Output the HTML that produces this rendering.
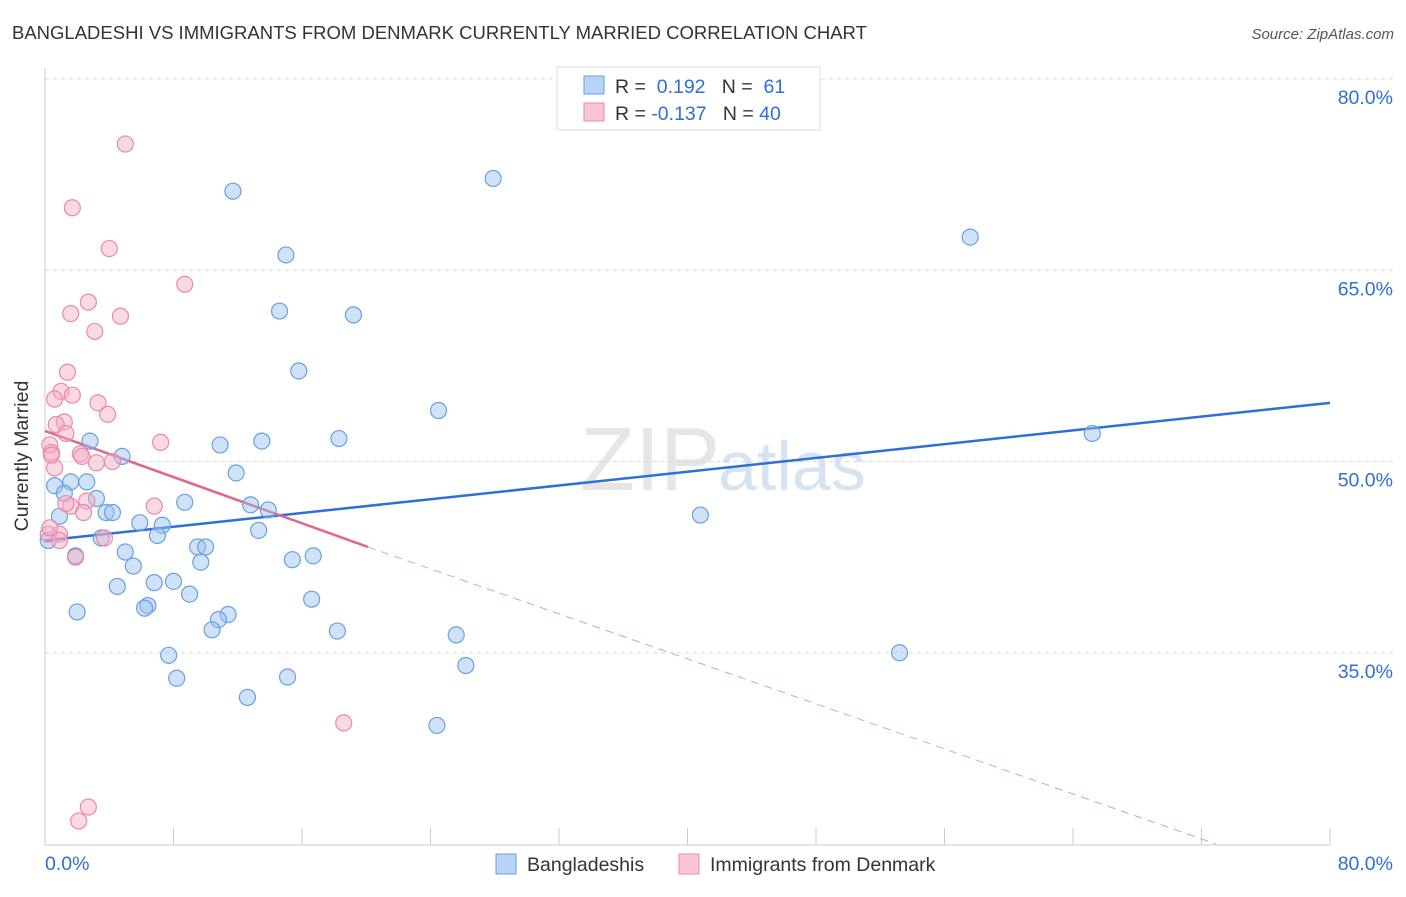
<!DOCTYPE html>
<html><head><meta charset="utf-8"><style>
body{margin:0;background:#fff;font-family:"Liberation Sans",sans-serif;}
svg text{font-family:"Liberation Sans",sans-serif;}
</style></head><body>
<svg id="chart" width="1406" height="892" xmlns="http://www.w3.org/2000/svg">
<text x="12" y="39" font-size="18.5" fill="#333">BANGLADESHI VS IMMIGRANTS FROM DENMARK CURRENTLY MARRIED CORRELATION CHART</text>
<text x="1394" y="39" font-size="15" fill="#555" text-anchor="end" font-style="italic">Source: ZipAtlas.com</text>
<text x="720" y="490" font-size="90" fill="#e6e6e6" text-anchor="end" font-family="Liberation Serif">ZIP</text>
<text x="718" y="490" font-size="70" fill="#d5e3f3">atlas</text>
<g id="grid"></g><g id="axes"></g><g id="lines"></g><g id="pts"></g>
<text x="28" y="456" font-size="19.5" fill="#333" text-anchor="middle" transform="rotate(-90 28 456)">Currently Married</text>
<g>
<rect x="557" y="67" width="263" height="63" fill="#fff" stroke="#ddd"/>
<rect x="584" y="76" width="20" height="18" fill="#b8d3f4" stroke="#6a9fe0"/>
<rect x="584" y="103" width="20" height="18" fill="#f9c5d5" stroke="#e88aa8"/>
<text x="615" y="93" font-size="19.5" fill="#333">R = <tspan fill="#2f6fd6">&#160;0.192</tspan>&#160;&#160;&#160;N = <tspan fill="#2f6fd6">&#160;61</tspan></text>
<text x="615" y="120" font-size="19.5" fill="#333">R = <tspan fill="#2f6fd6">-0.137</tspan>&#160;&#160;&#160;N = <tspan fill="#2f6fd6">40</tspan></text>
</g>
<g>
<rect x="496" y="854" width="20" height="20" fill="#b8d3f4" stroke="#6a9fe0"/>
<text x="527" y="871" font-size="19.5" fill="#333">Bangladeshis</text>
<rect x="679" y="854" width="20" height="20" fill="#f9c5d5" stroke="#e88aa8"/>
<text x="710" y="871" font-size="19.5" fill="#333">Immigrants from Denmark</text>
</g>
</svg>
<script>
const yTicks=[80,65,50,35];
const xTickLabels=["0.0%","80.0%"];
const blueX=[11.7,27.9,57.6,15.0,14.6,19.2,15.8,24.5,65.2,2.8,4.8,10.9,13.5,18.3,11.9,0.6,1.6,2.6,1.2,3.2,8.7,12.8,13.9,0.9,3.8,4.2,5.9,7.3,7.0,3.5,13.3,40.8,5.0,9.5,10.0,15.4,16.7,9.7,5.5,4.5,6.8,8.0,9.0,16.6,2.0,6.4,6.2,11.4,10.8,10.4,18.2,25.6,7.7,26.2,53.2,8.2,15.1,12.6,24.4,0.2,1.9];
const blueY=[71.2,72.2,67.6,66.2,61.8,61.5,57.1,54.0,52.2,51.6,50.4,51.3,51.6,51.8,49.1,48.1,48.4,48.4,47.5,47.1,46.8,46.6,46.2,45.7,46.0,46.0,45.2,45.0,44.2,44.0,44.6,45.8,42.9,43.3,43.3,42.3,42.6,42.1,41.8,40.2,40.5,40.6,39.6,39.2,38.2,38.7,38.5,38.0,37.6,36.8,36.7,36.4,34.8,34.0,35.0,33.0,33.1,31.5,29.3,43.8,42.6];
const pinkX=[5.0,1.7,4.0,8.7,2.7,1.6,4.7,3.1,1.4,1.0,1.7,0.6,3.3,3.9,1.2,0.7,1.3,7.2,0.3,0.4,2.2,2.3,4.2,3.2,0.6,2.6,1.6,6.8,2.4,0.9,3.7,1.9,0.2,18.6,2.7,2.1,0.9,0.4,1.3,0.3];
const pinkY=[74.9,69.9,66.7,63.9,62.5,61.6,61.4,60.2,57.0,55.5,55.2,54.9,54.6,53.7,53.1,52.9,52.2,51.5,51.3,50.7,50.6,50.4,50.0,49.9,49.5,46.9,46.5,46.5,46.0,44.3,44.0,42.5,44.3,29.5,22.9,21.8,43.8,50.5,46.7,44.8];
const trendB=[[0,43.8],[80,54.6]];
const trendP=[[0,52.4],[20.1,43.3],[72.9,20.0]];
const X0=45,X1=1330,Y80=79,PXY=12.75;
const sx=v=>X0+(X1-X0)*v/80, sy=v=>Y80+(80-v)*PXY;
const NS="http://www.w3.org/2000/svg";
function mk(tag,attrs,parent){const e=document.createElementNS(NS,tag);for(const k in attrs)e.setAttribute(k,attrs[k]);document.getElementById(parent).appendChild(e);return e;}
yTicks.forEach(t=>{
 const l=mk('line',{x1:45,x2:1394,y1:sy(t),y2:sy(t),stroke:'#d8d8d8','stroke-dasharray':'4,4'},'grid');
 
 
 const tx=mk('text',{x:1393,y:sy(t)+25,'font-size':19.5,fill:'#2f6fd6','text-anchor':'end'},'grid');
 tx.textContent=t.toFixed(1)+'%';
 
 
});
const ax=mk('line',{x1:45,x2:45,y1:68,y2:845,stroke:'#ccc'},'axes');


const bx=mk('line',{x1:45,x2:1330,y1:845,y2:845,stroke:'#ccc'},'axes');


for(let i=0;i<=10;i++){const v=i*8;const t=mk('line',{x1:sx(v),x2:sx(v),y1:828,y2:845,stroke:'#ccc'},'axes');
 
 }
[[0,'start',45],[80,'end',1393]].forEach((d,i)=>{const t=mk('text',{x:d[2],y:870,'font-size':19.5,fill:'#2f6fd6','text-anchor':d[1]},'axes');t.textContent=xTickLabels[i];
 
 });
blueX.forEach((x,i)=>{const c=mk('circle',{cx:sx(x),cy:sy(blueY[i]),r:8,fill:'rgba(150,190,240,0.45)',stroke:'#6a9fe0','stroke-width':1.2},'pts');
 
 });
pinkX.forEach((x,i)=>{const c=mk('circle',{cx:sx(x),cy:sy(pinkY[i]),r:8,fill:'rgba(246,170,195,0.45)',stroke:'#e88aa8','stroke-width':1.2},'pts');
 
 });
const lb=mk('line',{x1:sx(trendB[0][0]),y1:sy(trendB[0][1]),x2:sx(trendB[1][0]),y2:sy(trendB[1][1]),stroke:'#2f6fd6','stroke-width':2.5},'lines');


const lp=mk('line',{x1:sx(trendP[0][0]),y1:sy(trendP[0][1]),x2:sx(trendP[1][0]),y2:sy(trendP[1][1]),stroke:'#e0668f','stroke-width':2.5},'lines');


const lpd=mk('line',{x1:sx(trendP[1][0]),y1:sy(trendP[1][1]),x2:sx(trendP[2][0]),y2:sy(trendP[2][1]),stroke:'#e89ab4','stroke-width':1,'stroke-dasharray':'8,6'},'lines');


</script>
</body></html>
